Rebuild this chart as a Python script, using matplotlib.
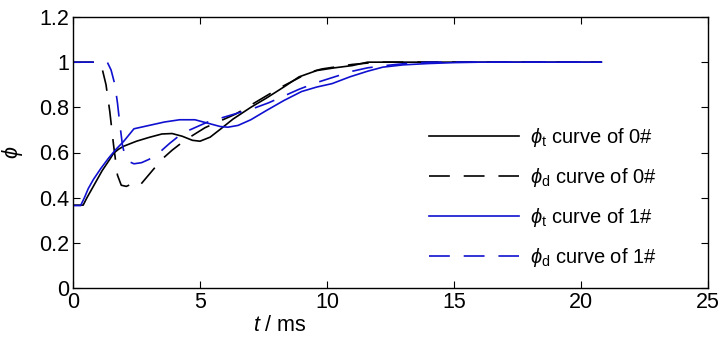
import numpy as np
import matplotlib
matplotlib.use("Agg")
import matplotlib.pyplot as plt
from matplotlib import font_manager

# 曲线数据
t_t0 = [0, 0.4, 0.55, 0.7, 0.85, 1.0, 1.15, 1.3, 1.45, 1.6, 1.8, 2.0, 2.5, 3.0, 3.5, 3.9,
        4.3, 4.7, 5.0, 5.4, 5.8, 6.3, 7.0, 7.6, 8.3, 8.9, 9.6, 10.3, 11.0, 11.6, 13, 16, 20.8]
phi_t0 = [0.367, 0.367, 0.40, 0.43, 0.46, 0.49, 0.52, 0.545, 0.57, 0.597, 0.615, 0.628, 0.65,
          0.667, 0.682, 0.684, 0.672, 0.654, 0.65, 0.668, 0.703, 0.748, 0.80, 0.84, 0.89,
          0.935, 0.963, 0.975, 0.985, 1.0, 1.0, 1.0, 1.0]

t_d0 = [0, 1.0, 1.15, 1.3, 1.45, 1.6, 1.75, 1.9, 2.1, 2.3, 2.6, 2.9, 3.2, 3.5, 3.9, 4.3,
        4.7, 5.2, 5.8, 6.4, 7.0, 7.6, 8.2, 8.8, 9.3, 9.8, 10.4, 11.0, 12, 16, 20.8]
phi_d0 = [1.0, 1.0, 0.97, 0.9, 0.78, 0.63, 0.5, 0.455, 0.45, 0.46, 0.45, 0.49, 0.53, 0.57,
          0.61, 0.645, 0.675, 0.71, 0.74, 0.77, 0.81, 0.85, 0.89, 0.925, 0.955, 0.97,
          0.98, 0.99, 1.0, 1.0, 1.0]

t_t1 = [0, 0.3, 0.45, 0.6, 0.8, 1.1, 1.4, 1.7, 2.0, 2.4, 3.0, 3.6, 4.2, 4.8, 5.3, 5.8,
        6.1, 6.5, 7.0, 7.6, 8.3, 9.0, 9.6, 10.2, 10.9, 11.6, 12.2, 13, 14, 15, 16, 20.8]
phi_t1 = [0.365, 0.365, 0.40, 0.44, 0.48, 0.53, 0.575, 0.615, 0.65, 0.705, 0.72, 0.735,
          0.745, 0.745, 0.73, 0.715, 0.712, 0.72, 0.745, 0.785, 0.83, 0.87, 0.89, 0.905,
          0.935, 0.96, 0.978, 0.988, 0.994, 0.998, 1.0, 1.0]

t_d1 = [0, 1.35, 1.5, 1.65, 1.75, 1.85, 1.95, 2.05, 2.2, 2.4, 2.7, 3.0, 3.4, 3.8, 4.3, 4.8,
        5.3, 5.9, 6.5, 7.1, 7.7, 8.3, 8.9, 9.6, 10.3, 11.0, 11.6, 12.3, 13.0, 14.0, 20.8]
phi_d1 = [1.0, 1.0, 0.965, 0.9, 0.82, 0.72, 0.63, 0.585, 0.56, 0.55, 0.555, 0.57, 0.6,
          0.64, 0.685, 0.71, 0.735, 0.755, 0.775, 0.795, 0.82, 0.85, 0.88, 0.91, 0.935,
          0.96, 0.975, 0.985, 0.993, 1.0, 1.0]

labels = [r'$\phi_{\rm t}$ curve of 0#', r'$\phi_{\rm d}$ curve of 0#',
          r'$\phi_{\rm t}$ curve of 1#', r'$\phi_{\rm d}$ curve of 1#']
xticks = [0, 5, 10, 15, 20, 25]
yticks = [0, 0.2, 0.4, 0.6, 0.8, 1, 1.2]

names = {f.name for f in font_manager.fontManager.ttflist}
fam = 'Liberation Sans Narrow' if 'Liberation Sans Narrow' in names else 'Liberation Sans'
plt.rcParams['font.family'] = [fam, 'DejaVu Sans']
plt.rcParams['mathtext.fontset'] = 'custom'
plt.rcParams['mathtext.rm'] = fam
plt.rcParams['mathtext.it'] = fam + ':italic'
plt.rcParams['lines.scale_dashes'] = False

fig = plt.figure(figsize=(7.28, 3.47), dpi=100)
ax = fig.add_axes([73 / 728, 1 - 288 / 347, 635 / 728, 271 / 347])

blue = '#1010d0'
dash = (15, 10)
ax.plot(t_t0, phi_t0, color='black', lw=1.2, label=labels[0])
ax.plot(t_d0, phi_d0, color='black', lw=1.2, dashes=dash, label=labels[1])
ax.plot(t_t1, phi_t1, color=blue, lw=1.2, label=labels[2])
ax.plot(t_d1, phi_d1, color=blue, lw=1.2, dashes=dash, label=labels[3])

ax.set_xlim(0, 25)
ax.set_ylim(0, 1.2)
ax.set_xticks(xticks)
ax.set_xticklabels([str(v) for v in xticks])
ax.set_yticks(yticks)
ax.set_yticklabels(['0', '0.2', '0.4', '0.6', '0.8', '1', '1.2'])
ax.tick_params(direction='in', top=True, right=True, length=5, width=0.8,
               labelsize=15.5, pad=3)
for s in ax.spines.values():
    s.set_linewidth(1.0)

ax.set_xlabel(r'$t$ / ms', fontsize=15.5, labelpad=0)
ax.xaxis.set_label_coords(0.326, -0.1)
ax.set_ylabel(r'$\phi$', fontsize=15.5, labelpad=10)

leg = ax.legend(loc='lower right', bbox_to_anchor=(0.947, 0.002), frameon=False,
                fontsize=14.5, handlelength=4.5, handletextpad=0.5, labelspacing=0.85)

fig.savefig('out.png', dpi=100)
